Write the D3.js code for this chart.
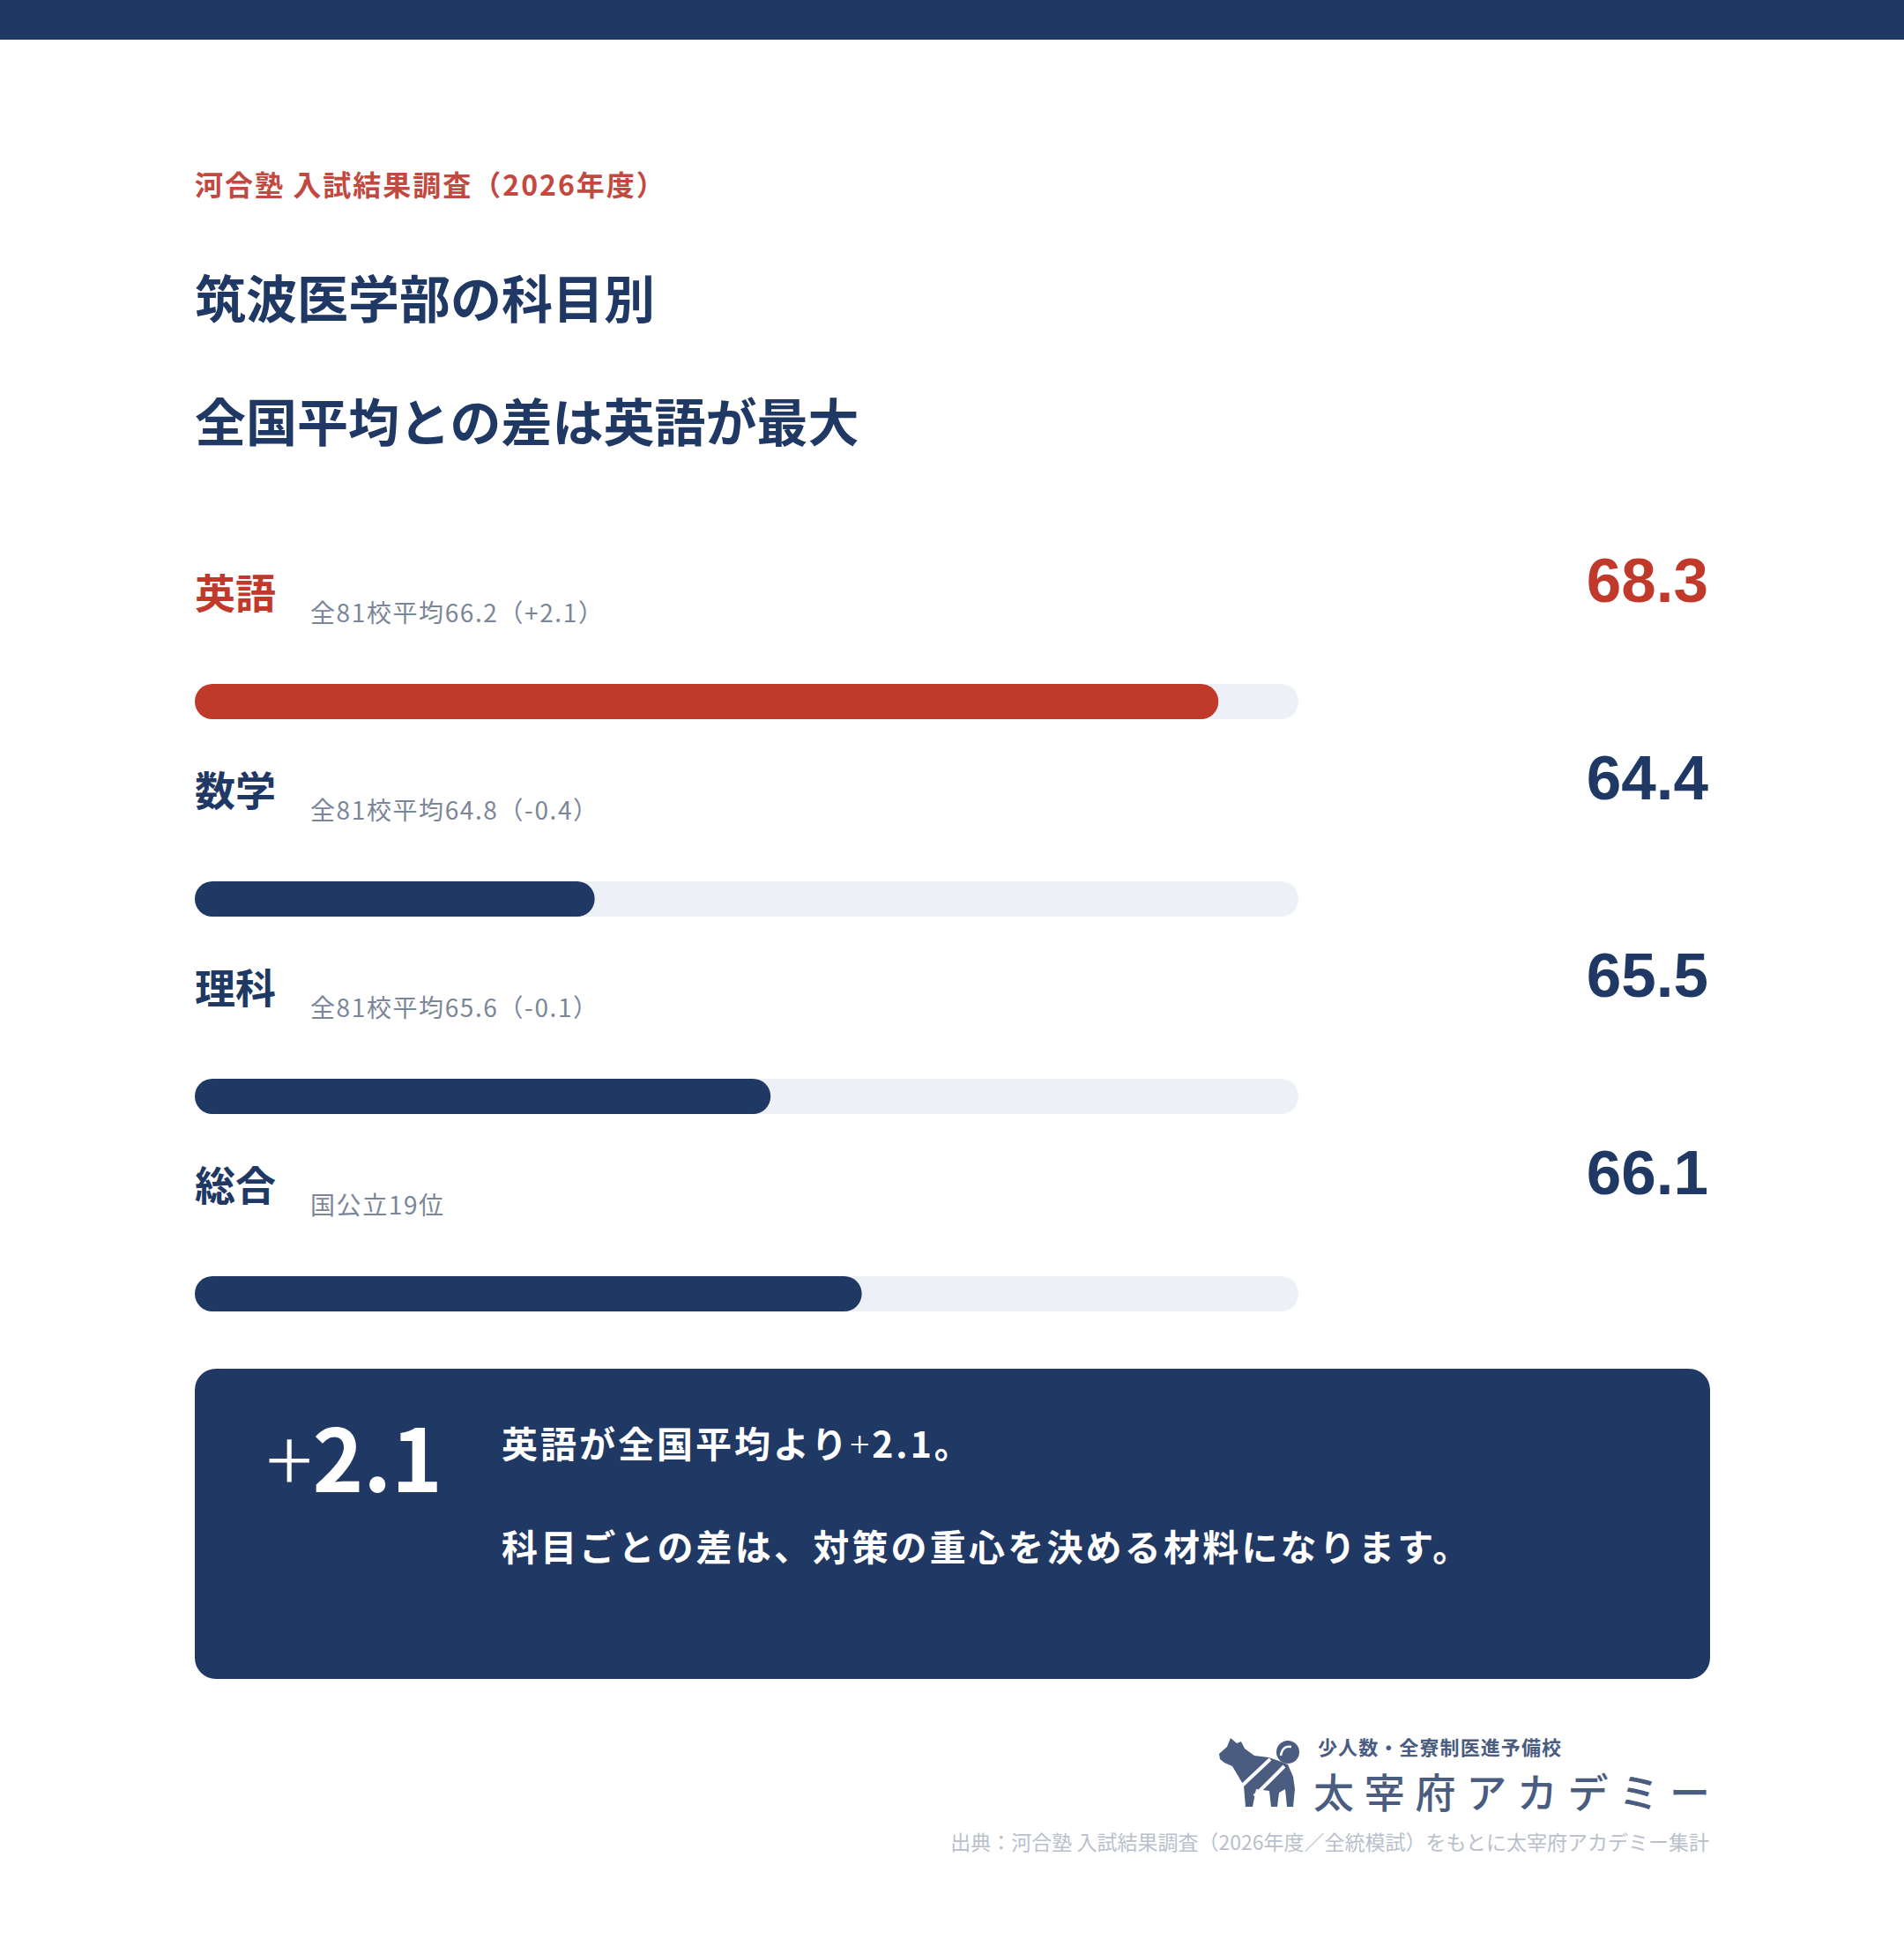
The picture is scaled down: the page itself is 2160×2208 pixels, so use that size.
<!DOCTYPE html>
<html lang="ja">
<head>
<meta charset="utf-8">
<script src="https://cdn.jsdelivr.net/npm/d3@7"></script>
<style>
  html, body { margin: 0; padding: 0; background: #ffffff; }
  svg { display: block; }
</style>
</head>
<body>
<svg id="chart" width="2160" height="2208"></svg>
<script>
// ---- data ----
const subjects = ["英語", "数学", "理科", "総合"];
const scores = [68.3, 64.4, 65.5, 66.07];
const notes = ["全81校平均66.2（+2.1）", "全81校平均64.8（-0.4）", "全81校平均65.6（-0.1）", "国公立19位"];
const highlightSubject = "英語";
const kicker = "河合塾 入試結果調査（2026年度）";
const titleLines = ["筑波医学部の科目別", "全国平均との差は英語が最大"];
const calloutValue = "2.1";
const calloutLine1 = ["英語が全国平均より", "+", "2.1。"];
const calloutLine2 = "科目ごとの差は、対策の重心を決める材料になります。";
const logoTagline = "少人数・全寮制医進予備校";
const logoName = "太宰府アカデミー";
const sourceNote = "出典：河合塾 入試結果調査（2026年度／全統模試）をもとに太宰府アカデミー集計";

// ---- styles ----
const NAVY = "#1f3864";
const RED = "#c0392b";
const TRACK = "#edf0f7";
const GRAY = "#7b8698";
const CJK = "'Noto Sans CJK JP', 'Noto Sans', sans-serif";
const NUM = "'Liberation Sans', Arial, sans-serif";

const svg = d3.select("#chart");
const W = 2160;

svg.append("rect").attr("x", 0).attr("y", 0).attr("width", W).attr("height", 2208).attr("fill", "#fff");
svg.append("rect").attr("x", 0).attr("y", 0).attr("width", W).attr("height", 45).attr("fill", NAVY);

// kicker
svg.append("text")
  .attr("x", 221).attr("y", 222)
  .attr("font-family", CJK).attr("font-weight", 700).attr("font-size", 32)
  .attr("letter-spacing", 2)
  .attr("fill", "#c24840")
  .text(kicker);

// title
svg.selectAll("text.title").data(titleLines).join("text")
  .attr("class", "title")
  .attr("x", 221).attr("y", (d, i) => 361 + i * 140)
  .attr("font-family", CJK).attr("font-weight", 700).attr("font-size", 58)
  .attr("fill", NAVY)
  .text(d => d);

// ---- bars ----
const left = 221, right = 1473;
const x = d3.scaleLinear()
  .domain([d3.min(scores) - 2.5, d3.max(scores) + 0.5])
  .range([left, right]);
const y = d3.scalePoint().domain(subjects).range([776, 1448]);
const barH = 40;

const rows = svg.selectAll("g.row").data(subjects.map((s, i) => ({ s, v: scores[i], note: notes[i] })))
  .join("g").attr("class", "row");

rows.append("rect")
  .attr("x", left).attr("y", d => y(d.s))
  .attr("width", right - left).attr("height", barH)
  .attr("rx", barH / 2).attr("fill", TRACK);

rows.append("rect")
  .attr("x", left).attr("y", d => y(d.s))
  .attr("width", d => x(d.v) - left).attr("height", barH)
  .attr("rx", barH / 2)
  .attr("fill", d => d.s === highlightSubject ? RED : NAVY);

rows.append("text")
  .attr("x", 221).attr("y", d => y(d.s) - 86)
  .attr("font-family", CJK).attr("font-weight", 700).attr("font-size", 46)
  .attr("fill", d => d.s === highlightSubject ? RED : NAVY)
  .text(d => d.s);

rows.append("text")
  .attr("x", 352).attr("y", d => y(d.s) - 70)
  .attr("font-family", CJK).attr("font-weight", 400).attr("font-size", 28)
  .attr("letter-spacing", 1.6)
  .attr("fill", GRAY)
  .text(d => d.note);

rows.append("text")
  .attr("x", 1938).attr("y", d => y(d.s) - 93)
  .attr("text-anchor", "end")
  .attr("font-family", NUM).attr("font-weight", 700).attr("font-size", 71)
  .attr("fill", d => d.s === highlightSubject ? RED : NAVY)
  .text(d => d.v.toFixed(1));

// ---- callout ----
svg.append("rect")
  .attr("x", 221).attr("y", 1553).attr("width", 1719).attr("height", 352)
  .attr("rx", 24).attr("fill", NAVY);

const big = svg.append("text")
  .attr("x", 302).attr("y", 1693)
  .attr("font-family", CJK).attr("font-size", 98).attr("fill", "#fff");
big.append("tspan").attr("font-weight", 300).text("+");
big.append("tspan").attr("font-weight", 700).text(calloutValue);

const l1 = svg.append("text")
  .attr("x", 569).attr("y", 1654)
  .attr("font-family", CJK).attr("font-weight", 700).attr("font-size", 41)
  .attr("letter-spacing", 3)
  .attr("fill", "#fff");
l1.selectAll("tspan").data(calloutLine1).join("tspan")
  .attr("font-weight", (d, i) => i === 1 ? 300 : 700)
  .text(d => d);

svg.append("text")
  .attr("x", 569).attr("y", 1771)
  .attr("font-family", CJK).attr("font-weight", 700).attr("font-size", 41)
  .attr("letter-spacing", 3.2)
  .attr("fill", "#fff")
  .text(calloutLine2);

// ---- logo ----
const LOGO = "#4a5d80";
const dog = svg.append("g").attr("transform", "translate(1383,1972)");
dog.append("path")
  .attr("d", "M0,18 L9,10 L13,0 L20,6 L25,4 L29,12 L40,20 L56,22 L68,26 L78,30 L84,44 L86,58 L84,78 L77,78 L75,58 L68,62 L66,78 L59,78 L57,60 L42,58 L38,78 L30,78 L28,54 L21,42 L15,32 L6,28 L1,24 Z")
  .attr("fill", LOGO);
dog.append("circle").attr("cx", 78).attr("cy", 16).attr("r", 13).attr("fill", LOGO);
dog.append("path").attr("d", "M70,20 Q72,8 82,10").attr("fill", "none").attr("stroke", "#fff").attr("stroke-width", 2.5);
dog.append("line").attr("x1", 24).attr("y1", 56).attr("x2", 58).attr("y2", 24).attr("stroke", "#fff").attr("stroke-width", 4);
dog.append("line").attr("x1", 40).attr("y1", 66).attr("x2", 74).attr("y2", 32).attr("stroke", "#fff").attr("stroke-width", 4);

svg.append("text")
  .attr("x", 1495).attr("y", 1991)
  .attr("font-family", CJK).attr("font-weight", 700).attr("font-size", 22)
  .attr("fill", LOGO)
  .attr("textLength", 276).attr("lengthAdjust", "spacing")
  .text(logoTagline);

svg.append("text")
  .attr("x", 1490).attr("y", 2051)
  .attr("font-family", CJK).attr("font-weight", 500).attr("font-size", 46)
  .attr("fill", LOGO)
  .attr("textLength", 450).attr("lengthAdjust", "spacing")
  .text(logoName);

// source
svg.append("text")
  .attr("x", 1939).attr("y", 2099)
  .attr("text-anchor", "end")
  .attr("font-family", CJK).attr("font-weight", 400).attr("font-size", 23)
  .attr("fill", "#b9c0cc")
  .text(sourceNote);
</script>
</body>
</html>
